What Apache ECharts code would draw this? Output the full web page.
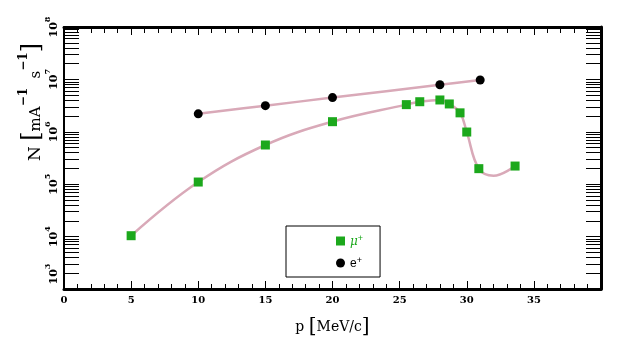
<!DOCTYPE html>
<html>
<head>
<meta charset="utf-8">
<script src="https://cdn.jsdelivr.net/npm/echarts@6/dist/echarts.min.js"></script>
<style>
  html, body { margin: 0; padding: 0; background: #fff; }
  #chart { width: 632px; height: 349px; }
</style>
</head>
<body>
<div id="chart"></div>
<script>
// Beam rates N (per mA per s) against momentum p (MeV/c)
const muMomentum = [5, 10, 15, 20, 25.5, 26.5, 28, 28.7, 29.5, 30, 30.9, 33.6];
const muRate = [1.04e4, 1.1e5, 5.6e5, 1.56e6, 3.3e6, 3.75e6, 4.05e6, 3.4e6, 2.3e6, 9.9e5, 1.98e5, 2.22e5];

// Fitted curve for mu+, with its dip just above 31 MeV/c
const muCurveMomentum = [5, 10, 15, 20, 25.5, 26.5, 28, 28.7, 29.5, 30, 30.9, 32, 33.6];
const muCurveRate = [1.04e4, 1.1e5, 5.6e5, 1.56e6, 3.3e6, 3.75e6, 4.05e6, 3.4e6, 2.3e6, 9.9e5, 1.98e5, 1.45e5, 2.22e5];

const eMomentum = [10, 15, 20, 28, 31];
const eRate = [2.2e6, 3.15e6, 4.5e6, 7.9e6, 9.75e6];

// Axis ranges
const xRange = [0, 40];
const yDecades = [3, 4, 5, 6, 7, 8];

const zip = (xs, ys) => xs.map((x, i) => [x, ys[i]]);

// Tick positions of a decade log axis (1..9 in each decade), in log10 units
const logTickPositions = [];
for (let d = yDecades[0]; d < yDecades[yDecades.length - 1]; d++) {
  for (let k = 1; k <= 9; k++) logTickPositions.push(d + Math.log10(k));
}
logTickPositions.push(yDecades[yDecades.length - 1]);

const SERIF = '"DejaVu Serif", "Liberation Serif", serif';
const CURVE = '#d9a9b8';
const GREEN = '#1ca81c';

const frame = (w) => ({ show: true, onZero: false, lineStyle: { color: '#000', width: w } });

const chart = echarts.init(document.getElementById('chart'), null, { renderer: 'canvas' });

chart.setOption({
  animation: false,
  backgroundColor: '#fff',
  grid: { left: 64, right: 31, top: 27, bottom: 60 },
  xAxis: [
    {
      type: 'value', position: 'bottom', min: xRange[0], max: xRange[1], interval: 5,
      axisLine: frame(3),
      axisTick: { show: true, inside: true, length: 8, lineStyle: { color: '#000', width: 1 } },
      minorTick: { show: true, splitNumber: 5, length: 5, lineStyle: { color: '#000', width: 1 } },
      splitLine: { show: false },
      axisLabel: {
        margin: 6, showMaxLabel: false,
        fontFamily: SERIF, fontWeight: 'bold', fontSize: 10, color: '#000'
      },
      name: '{t|p }{br|[}{t|MeV/c}{br|]}',
      nameLocation: 'middle', nameGap: 28,
      nameTextStyle: {
        rich: {
          t: { fontFamily: SERIF, fontSize: 14, color: '#000' },
          br: { fontFamily: SERIF, fontSize: 20, color: '#000' }
        }
      }
    },
    {
      type: 'value', position: 'top', min: xRange[0], max: xRange[1], interval: 5,
      axisLine: frame(3),
      axisTick: { show: true, inside: true, length: 8, lineStyle: { color: '#000', width: 1 } },
      minorTick: { show: true, splitNumber: 5, length: 6, lineStyle: { color: '#000', width: 1 } },
      splitLine: { show: false },
      axisLabel: { show: false }
    }
  ],
  yAxis: [
    {
      // log axis that carries the data and the 10^n labels
      type: 'log', position: 'left', logBase: 10,
      min: Math.pow(10, yDecades[0]), max: Math.pow(10, yDecades[yDecades.length - 1]),
      axisLine: frame(2),
      axisTick: { show: false },
      splitLine: { show: false },
      axisLabel: {
        rotate: 90, margin: 4,
        formatter: (v) => {
          const e = Math.round(Math.log10(v));
          return (e === yDecades[0] ? '{gap| }' : '') + '{b|10}{s|' + e + '}';
        },
        rich: {
          b: { fontFamily: SERIF, fontWeight: 'bold', fontSize: 11, color: '#000', lineHeight: 16, verticalAlign: 'bottom' },
          s: { fontFamily: SERIF, fontWeight: 'bold', fontSize: 8, color: '#000', lineHeight: 16, verticalAlign: 'top' },
          gap: { width: 30, fontSize: 11 }
        }
      }
    },
    {
      // decade and sub-decade tick marks on the left edge
      type: 'value', position: 'left', min: yDecades[0], max: yDecades[yDecades.length - 1],
      axisLine: { show: false },
      axisTick: { show: true, inside: true, length: 15, customValues: logTickPositions, lineStyle: { color: '#000', width: 1 } },
      axisLabel: { show: false },
      splitLine: { show: false }
    },
    {
      // same tick marks on the right edge
      type: 'value', position: 'right', min: yDecades[0], max: yDecades[yDecades.length - 1],
      axisLine: frame(3),
      axisTick: { show: true, inside: true, length: 15, customValues: logTickPositions, lineStyle: { color: '#000', width: 1 } },
      axisLabel: { show: false },
      splitLine: { show: false }
    }
  ],
  legend: {
    left: 286, top: 226,
    orient: 'vertical',
    borderColor: '#000', borderWidth: 1, borderRadius: 0,
    padding: [8, 17, 7, 50],
    itemGap: 8, itemWidth: 9, itemHeight: 9,
    data: [
      { name: 'μ+', icon: 'rect' },
      { name: 'e+', icon: 'circle' }
    ],
    formatter: (name) => name === 'μ+' ? '{mu|μ}{mus|+}' : '{e|e}{es|+}',
    textStyle: {
      lineHeight: 12,
      rich: {
        mu: { fontFamily: SERIF, fontStyle: 'italic', fontSize: 12, color: GREEN, verticalAlign: 'bottom', lineHeight: 14 },
        mus: { fontFamily: 'Liberation Sans, sans-serif', fontSize: 9, color: GREEN, verticalAlign: 'top', lineHeight: 14 },
        e: { fontFamily: 'Liberation Sans, sans-serif', fontSize: 12, color: '#000', verticalAlign: 'bottom', lineHeight: 14 },
        es: { fontFamily: 'Liberation Sans, sans-serif', fontSize: 9, color: '#000', verticalAlign: 'top', lineHeight: 14 }
      }
    }
  },
  graphic: [
    {
      type: 'text', x: 31, y: 102, rotation: Math.PI / 2,
      style: {
        text: '{n|N }{br|[}{t|mA}{s|−1}{t|  s}{s|−1}{br|]}',
        align: 'center', verticalAlign: 'middle',
        rich: {
          n: { fontFamily: SERIF, fontSize: 17, fill: '#000', verticalAlign: 'bottom', lineHeight: 26 },
          t: { fontFamily: SERIF, fontSize: 15, fill: '#000', verticalAlign: 'bottom', lineHeight: 26 },
          br: { fontFamily: SERIF, fontSize: 24, fill: '#000', verticalAlign: 'bottom', lineHeight: 26 },
          s: { fontFamily: SERIF, fontWeight: 'bold', fontSize: 12, fill: '#000', verticalAlign: 'top', lineHeight: 26 }
        }
      }
    }
  ],
  series: [
    {
      name: 'mu-curve', type: 'line', xAxisIndex: 0, yAxisIndex: 0,
      data: zip(muCurveMomentum, muCurveRate),
      smooth: 0.4, showSymbol: false, silent: true,
      lineStyle: { color: CURVE, width: 2.5 }, z: 1
    },
    {
      name: 'e-curve', type: 'line', xAxisIndex: 0, yAxisIndex: 0,
      data: zip(eMomentum, eRate),
      smooth: 0.4, showSymbol: false, silent: true,
      lineStyle: { color: CURVE, width: 2.5 }, z: 1
    },
    {
      name: 'μ+', type: 'scatter', xAxisIndex: 0, yAxisIndex: 0,
      data: zip(muMomentum, muRate),
      symbol: 'rect', symbolSize: 9,
      itemStyle: { color: GREEN, opacity: 1 }, z: 3
    },
    {
      name: 'e+', type: 'scatter', xAxisIndex: 0, yAxisIndex: 0,
      data: zip(eMomentum, eRate),
      symbol: 'circle', symbolSize: 9,
      itemStyle: { color: '#000', opacity: 1 }, z: 3
    }
  ]
});
</script>
</body>
</html>
